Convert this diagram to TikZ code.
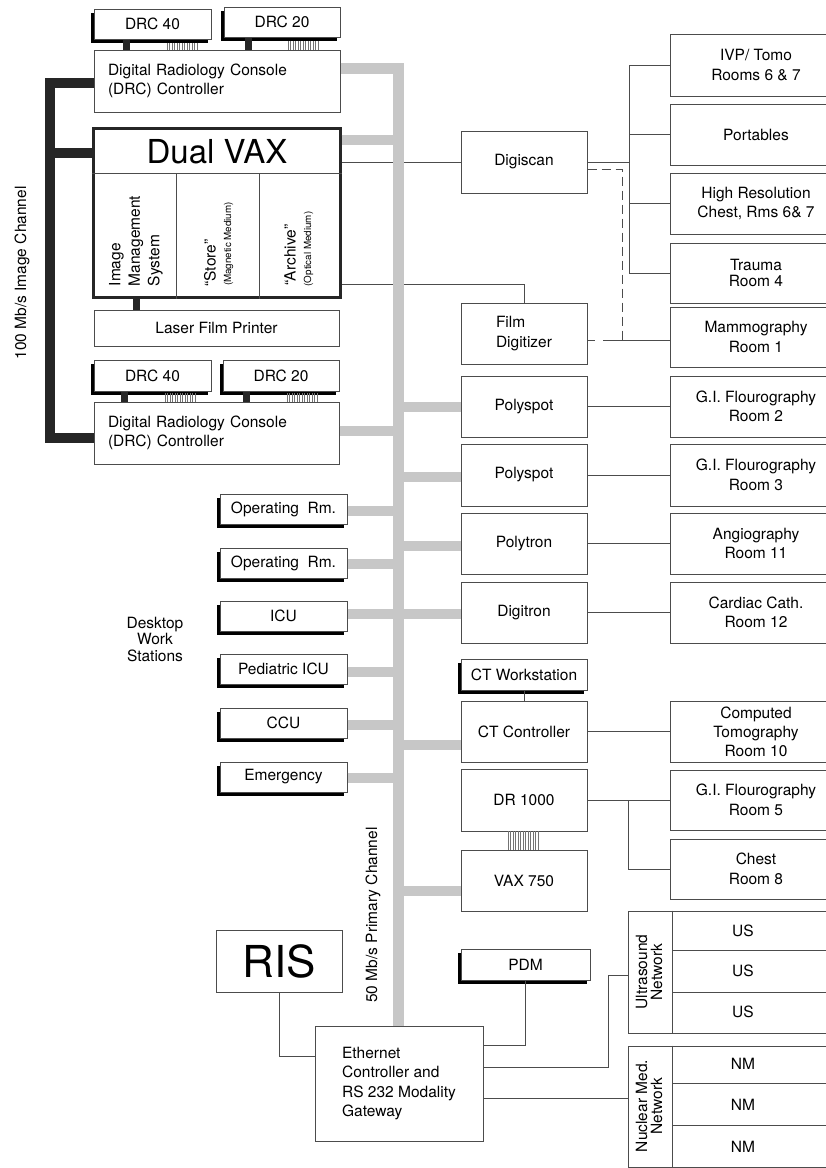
\documentclass[tikz,border=0pt]{standalone}
\usepackage{fontspec}
\setmainfont{TeX Gyre Heros}
\usetikzlibrary{shadows}
\newcommand\fs{\fontsize{15.5}{19.5}\selectfont}
\newcommand\smallfs{\fontsize{9.8}{11}\selectfont}
\newcommand\hatchbar[4]{\foreach \hh in {0,...,#4} \draw[hatchln] (#1+\hh*2.5,#2) -- (#1+\hh*2.5,#3);}
\begin{document}
\begin{tikzpicture}[x=1pt,y=-1pt,
  box/.style={draw=black!70, line width=1pt, fill=white, inner sep=0pt, align=center, font=\fs},
  sbox/.style={box, drop shadow={shadow xshift=-3.5pt, shadow yshift=-4pt, opacity=1, fill=black}},
  thinln/.style={draw=black!70, line width=1pt},
  busline/.style={draw=black!22, line width=10pt},
  imgline/.style={draw=black!85, line width=10pt},
  blk/.style={draw=black!85, line width=7pt},
  hatchln/.style={draw=black!55, line width=0.7pt},
  lbl/.style={inner sep=0pt, font=\fs, align=center},
]
\useasboundingbox (0,0) rectangle (826,1168);
\fill[white] (0,0) rectangle (826,1168);
\clip (0,0) rectangle (826,1168);

% ---------- left column ----------
\node[sbox, minimum width=117, minimum height=30] (drc40a) at (152.5,24) {DRC 40};
\node[sbox, minimum width=116, minimum height=30] (drc20a) at (282,22) {DRC 20};
\node[box, minimum width=246, minimum height=62, text width=218, align=left] (drcA) at (217,81) {Digital Radiology Console\\(DRC) Controller};
\node[box, draw=black!85, line width=3pt, minimum width=247, minimum height=169] (dualvax) at (216.5,212.5) {};
\node[lbl, font=\fontsize{33}{36}\selectfont] (dvtitle) at (217,152) {Dual VAX};
\draw[thinln] (dualvax.west |- 0,173) -- (dualvax.east |- 0,173);
\draw[thinln] (176,173) -- (dualvax.south -| 176,0);
\draw[thinln] (259,173) -- (dualvax.south -| 259,0);
\node[lbl, rotate=90, align=left] (ims) at (136,241) {Image\\Management\\System};
\node[inner sep=0pt, font=\fs, rotate=90, anchor=base] (store) at (215.6,263) {“Store”};
\node[inner sep=0pt, font=\smallfs, rotate=90, anchor=base] (magm) at (231.2,244) {(Magnetic Medium)};
\node[inner sep=0pt, font=\fs, rotate=90, anchor=base] (arch) at (295.6,255) {“Archive”};
\node[inner sep=0pt, font=\smallfs, rotate=90, anchor=base] (optm) at (311.2,249) {(Optical Medium)};
\node[box, minimum width=245, minimum height=36] (printer) at (216.5,328) {Laser Film Printer};
\node[sbox, minimum width=117, minimum height=31] (drc40b) at (152.5,375.5) {DRC 40};
\node[sbox, minimum width=116, minimum height=31] (drc20b) at (281,375.5) {DRC 20};
\node[box, minimum width=245, minimum height=62, text width=217, align=left] (drcB) at (216.5,433) {Digital Radiology Console\\(DRC) Controller};

\node[lbl, rotate=90] (imgch) at (22,273) {100 Mb/s Image Channel};
\node[lbl, font=\fontsize{15.5}{16.5}\selectfont] (desk) at (155,639) {Desktop\\Work\\Stations};

\node[sbox, minimum width=127, minimum height=30] (or1) at (283.5,509) {Operating\ \ Rm.};
\node[sbox, minimum width=127, minimum height=30] (or2) at (283.5,563) {Operating\ \ Rm.};
\node[sbox, minimum width=127, minimum height=30] (icu) at (283.5,616) {ICU};
\node[sbox, minimum width=127, minimum height=30] (ped) at (283.5,669) {Pediatric ICU};
\node[sbox, minimum width=127, minimum height=30] (ccu) at (283.5,723) {CCU};
\node[sbox, minimum width=127, minimum height=30] (emer) at (283.5,777) {Emergency};

\node[box, minimum width=126, minimum height=62, font=\fontsize{44}{48}\selectfont] (ris) at (279,961) {RIS};
\node[box, minimum width=168, minimum height=115, align=left] (gw) at (399,1083.5) {Ethernet\\Controller and\\RS 232 Modality\\Gateway};
\node[lbl, rotate=90] (primch) at (373,915) {50 Mb/s Primary Channel};

% ---------- middle column ----------
\node[box, minimum width=126, minimum height=62] (digiscan) at (524,162) {Digiscan};
\node[box, minimum width=126, minimum height=61, align=left] (film) at (524,333.5) {Film\\Digitizer};
\node[box, minimum width=126, minimum height=61] (polyA) at (524,406.5) {Polyspot};
\node[box, minimum width=126, minimum height=62] (polyB) at (524,475) {Polyspot};
\node[box, minimum width=126, minimum height=61] (polytron) at (524,543.5) {Polytron};
\node[box, minimum width=126, minimum height=61] (digitron) at (524,612.5) {Digitron};
\node[sbox, minimum width=126, minimum height=31] (ctws) at (524,674.5) {CT Workstation};
\node[box, minimum width=126, minimum height=61] (ctc) at (524,731.5) {CT Controller};
\node[box, minimum width=126, minimum height=62] (dr) at (524,800) {DR 1000};
\node[box, minimum width=126, minimum height=61] (vaxs) at (524,880.5) {VAX 750};
\node[sbox, minimum width=129, minimum height=31] (pdm) at (525.5,964.5) {PDM};

% ---------- right column ----------
\node[box, minimum width=172, minimum height=62] (ivp) at (756,65) {IVP/ Tomo\\Rooms 6 \& 7};
\node[box, minimum width=172, minimum height=61] (port) at (756,134.5) {Portables};
\node[box, minimum width=172, minimum height=61] (hires) at (756,203.5) {High Resolution\\Chest, Rms 6\& 7};
\node[box, minimum width=172, minimum height=60, font=\fontsize{15.5}{16}\selectfont] (trauma) at (756,273) {Trauma\\Room 4};
\node[box, minimum width=172, minimum height=60] (mammo) at (756,337) {Mammography\\Room 1};
\node[box, minimum width=172, minimum height=61] (gi2) at (756,406.5) {G.I. Flourography\\Room 2};
\node[box, minimum width=172, minimum height=62] (gi3) at (756,475) {G.I. Flourography\\Room 3};
\node[box, minimum width=172, minimum height=61] (angio) at (756,543.5) {Angiography\\Room 11};
\node[box, minimum width=172, minimum height=61] (cardiac) at (756,612.5) {Cardiac Cath.\\Room 12};
\node[box, minimum width=172, minimum height=61, font=\fontsize{15.5}{19}\selectfont] (ctroom) at (756,731.5) {Computed\\Tomography\\Room 10};
\node[box, minimum width=172, minimum height=60] (gi5) at (756,800) {G.I. Flourography\\Room 5};
\node[box, minimum width=172, minimum height=60] (chest) at (756,869) {Chest\\Room 8};

\node[box, minimum width=214, minimum height=122] (us) at (735,972) {};
\draw[thinln] (672,0 |- us.north) -- (672,0 |- us.south);
\draw[thinln] (672,950) -- (us.east |- 0,950);
\draw[thinln] (672,992) -- (us.east |- 0,992);
\node[lbl, rotate=90, font=\fontsize{15.5}{15}\selectfont] (usl) at (649,972) {Ultrasound\\Network};
\node[lbl] (us1) at (743,931) {US};
\node[lbl] (us2) at (743,971) {US};
\node[lbl] (us3) at (743,1012) {US};

\node[box, minimum width=214, minimum height=121] (nm) at (735,1106.5) {};
\draw[thinln] (672,0 |- nm.north) -- (672,0 |- nm.south);
\draw[thinln] (672,1083) -- (nm.east |- 0,1083);
\draw[thinln] (672,1125) -- (nm.east |- 0,1125);
\node[lbl, rotate=90, font=\fontsize{15.5}{15}\selectfont] (nml) at (649,1106) {Nuclear Med.\\Network};
\node[lbl] (nm1) at (743,1064) {NM};
\node[lbl] (nm2) at (743,1105) {NM};
\node[lbl] (nm3) at (743,1147) {NM};

% ---------- thin connectors ----------
\coordinate (trk) at (629,162);
\draw[thinln] (dualvax.east |- 0,162) -- (digiscan.west);
\draw[thinln] (dualvax.east |- 0,284) -| (film.north);
\draw[thinln] (digiscan.east) -- (trk);
\draw[thinln] (ivp.west) -| (trk);
\draw[thinln] (trauma.west) -| (trk);
\draw[thinln] (port.west) -- (port.west -| trk);
\draw[thinln] (hires.west) -- (hires.west -| trk);
\draw[thinln, dash pattern=on 9pt off 5pt] ([yshift=-7pt]digiscan.east) -| (622,340);
\draw[thinln, dash pattern=on 7pt off 9pt] (film.east |- 0,340) -- (603,340);
\draw[thinln] (603,340) -- (mammo.west |- 0,340);
\draw[thinln] (polyA.east) -- (gi2.west);
\draw[thinln] (polyB.east) -- (gi3.west);
\draw[thinln] (polytron.east) -- (angio.west);
\draw[thinln] (digitron.east) -- (cardiac.west);
\draw[thinln] (ctc.east) -- (ctroom.west);
\draw[thinln] (dr.east) -- (gi5.west);
\draw[thinln] (628,800) |- (chest.west);
\draw[thinln] (ctws.south) -- (ctc.north);
\draw[thinln] (ris.south) |- (gw.west |- 0,1056);
\draw[thinln] (pdm.south) |- (gw.east |- 0,1045);
\draw[thinln] (gw.east |- 0,1067) -| (608,975) -- (us.west |- 0,975);
\draw[thinln] (gw.east |- 0,1098) -- (nm.west |- 0,1098);

% ---------- 50 Mb/s primary channel ----------
\coordinate (bx) at (398,68);
\draw[busline, line width=11pt] (drcA.east |- 0,68) -- (bx) -- (bx |- gw.north);
\draw[busline] (dualvax.east |- 0,140) -- (bx |- 0,140);
\draw[busline] (drcB.east |- 0,431) -- (bx |- 0,431);
\draw[busline] (or1.east |- 0,511) -- (bx |- 0,511);
\draw[busline] (or2.east |- 0,564) -- (bx |- 0,564);
\draw[busline] (icu.east |- 0,614) -- (digitron.west |- 0,614);
\draw[busline] (ped.east |- 0,672) -- (bx |- 0,672);
\draw[busline] (ccu.east |- 0,725) -- (bx |- 0,725);
\draw[busline] (emer.east |- 0,778) -- (bx |- 0,778);
\draw[busline] (bx |- 0,407) -- (polyA.west |- 0,407);
\draw[busline] (bx |- 0,477) -- (polyB.west |- 0,477);
\draw[busline] (bx |- 0,546) -- (polytron.west |- 0,546);
\draw[busline] (bx |- 0,745) -- (ctc.west |- 0,745);
\draw[busline] (bx |- 0,891) -- (vaxs.west |- 0,891);

% ---------- 100 Mb/s image channel ----------
\draw[imgline] (drcA.west |- 0,83) -- (50,83) -- (50,438) -- (drcB.west |- 0,438);
\draw[imgline] (dualvax.west |- 0,152.5) -- (50,152.5);

% ---------- console links ----------
\draw[blk] (drc40a.south -| 126,0) -- (drcA.north -| 126,0);
\draw[blk] (drc20a.south -| 248,0) -- (drcA.north -| 248,0);
\draw[blk] (drc40b.south -| 124,0) -- (drcB.north -| 124,0);
\draw[blk] (drc20b.south -| 246,0) -- (drcB.north -| 246,0);
\draw[blk] (dualvax.south -| 136.5,0) -- (printer.north -| 136.5,0);
\hatchbar{167}{43}{50}{12}
\hatchbar{288}{41}{50}{12}
\hatchbar{165}{393}{402}{12}
\hatchbar{287}{393}{402}{12}
\hatchbar{508}{831}{850}{12}
\end{tikzpicture}
\end{document}
